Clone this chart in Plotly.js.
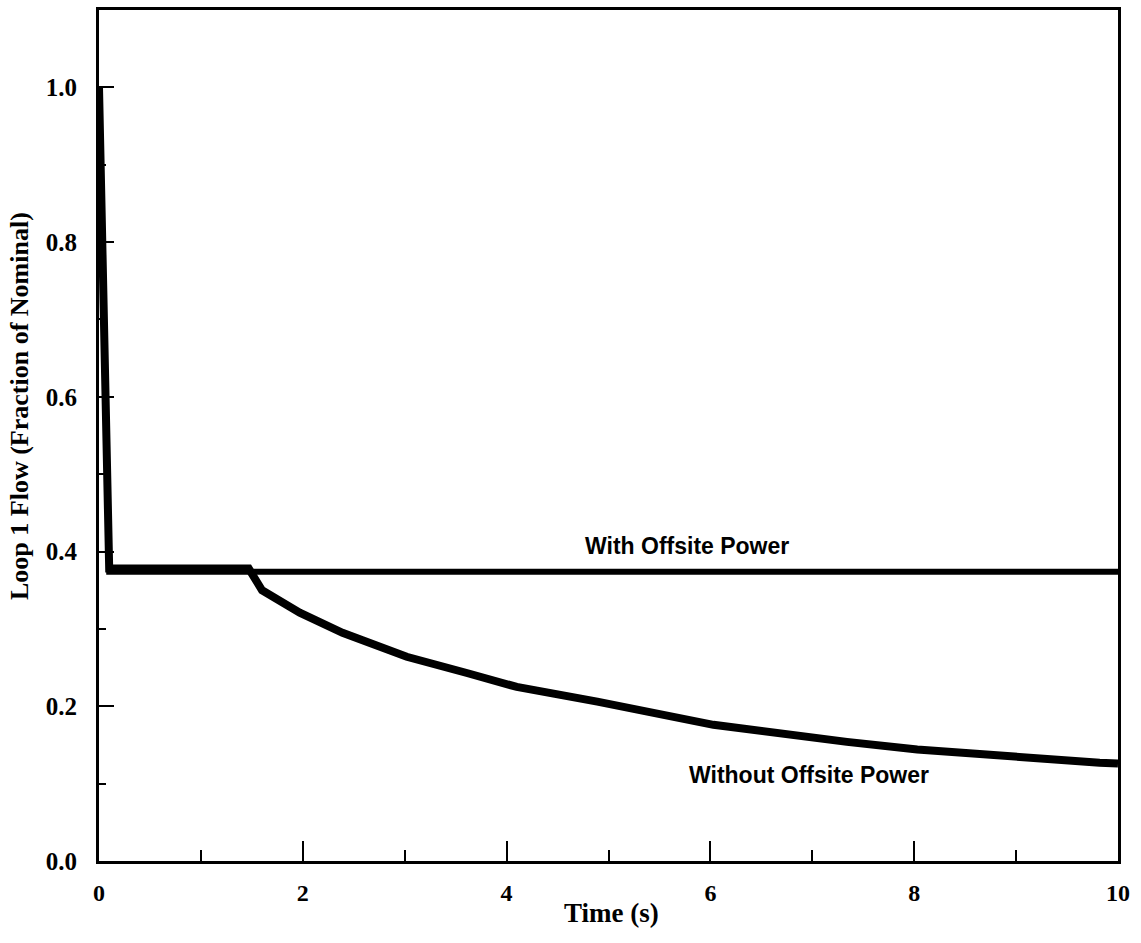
<!DOCTYPE html>
<html>
<head>
<meta charset="utf-8">
<script src="https://cdn.plot.ly/plotly-3.0.1.min.js"></script>
<style>html,body{margin:0;padding:0;background:#fff;}#chart{width:1141px;height:943px;}</style>
</head>
<body>
<div id="chart"></div>
<script>
// Time (s) and flow (fraction of nominal)
const timeWith = [0, 0.03, 0.08, 0.1, 1.0, 2.0, 4.0, 6.0, 8.0, 10.0];
const flowWith = [1.0, 0.8, 0.5, 0.374, 0.374, 0.374, 0.374, 0.374, 0.374, 0.374];

const timeWithout = [0, 0.03, 0.08, 0.1, 0.5, 1.0, 1.47, 1.6, 1.97, 2.39, 3.02, 3.61, 4.10, 4.89, 6.03, 7.34, 8.03, 9.82, 10.0];
const flowWithout = [1.0, 0.8, 0.5, 0.378, 0.378, 0.378, 0.378, 0.35, 0.321, 0.295, 0.264, 0.243, 0.225, 0.206, 0.176, 0.154, 0.144, 0.127, 0.126];

const xTickVals = [0, 2, 4, 6, 8, 10];
const xTickText = ['0', '2', '4', '6', '8', '10'];
const yTickVals = [0, 0.2, 0.4, 0.6, 0.8, 1.0];
const yTickText = ['0.0', '0.2', '0.4', '0.6', '0.8', '1.0'];

const xTitle = 'Time (s)';
const yTitle = 'Loop 1 Flow (Fraction of Nominal)';
const labelWith = 'With Offsite Power';
const labelWithout = 'Without Offsite Power';

const traces = [
  {x: timeWith, y: flowWith, mode: 'lines', line: {color: '#000', width: 6}, hoverinfo: 'skip'},
  {x: timeWithout, y: flowWithout, mode: 'lines', line: {color: '#000', width: 8}, hoverinfo: 'skip'}
];

const serif = 'Liberation Serif, Times New Roman, serif';
const sans = 'Liberation Sans, Arial, sans-serif';
const layout = {
  width: 1141, height: 943,
  margin: {l: 99, r: 23, t: 10, b: 82},
  paper_bgcolor: '#fff', plot_bgcolor: '#fff',
  showlegend: false,
  xaxis: {
    range: [0, 10],
    tickvals: xTickVals, ticktext: xTickText,
    ticks: 'inside', ticklen: 20, tickwidth: 2, tickcolor: '#000',
    minor: {dtick: 1, ticks: 'inside', ticklen: 11, tickwidth: 2, tickcolor: '#000'},
    showline: true, linewidth: 3, linecolor: '#000', mirror: true,
    showgrid: false, zeroline: false,
    tickfont: {family: serif, size: 24, color: '#000', weight: 'bold'},
    ticklabelstandoff: 8
  },
  yaxis: {
    range: [0, 1.1],
    tickvals: yTickVals, ticktext: yTickText,
    ticks: 'inside', ticklen: 15, tickwidth: 2, tickcolor: '#000',
    minor: {dtick: 0.1, ticks: 'inside', ticklen: 7, tickwidth: 2, tickcolor: '#000'},
    showline: true, linewidth: 3, linecolor: '#000', mirror: true,
    showgrid: false, zeroline: false,
    tickfont: {family: serif, size: 25, color: '#000', weight: 'bold'},
    ticklabelstandoff: 14
  },
  annotations: [
    {x: 0.5025, y: 0, xref: 'paper', yref: 'paper', xanchor: 'center', yanchor: 'middle', yshift: -52,
     text: '<b>' + xTitle + '</b>', showarrow: false,
     font: {family: serif, size: 27, color: '#000'}},
    {x: 0, y: 0.5347, xref: 'paper', yref: 'paper', xanchor: 'center', yanchor: 'middle', xshift: -79, textangle: -90,
     text: '<b>' + yTitle + '</b>', showarrow: false,
     font: {family: serif, size: 26, color: '#000'}},
    {x: 5.77, y: 0.407, xref: 'x', yref: 'y', text: '<b>' + labelWith + '</b>', showarrow: false,
     font: {family: sans, size: 23, color: '#000'}},
    {x: 6.97, y: 0.111, xref: 'x', yref: 'y', text: '<b>' + labelWithout + '</b>', showarrow: false,
     font: {family: sans, size: 23, color: '#000'}}
  ]
};

Plotly.newPlot('chart', traces, layout, {displayModeBar: false, staticPlot: true});
</script>
</body>
</html>
